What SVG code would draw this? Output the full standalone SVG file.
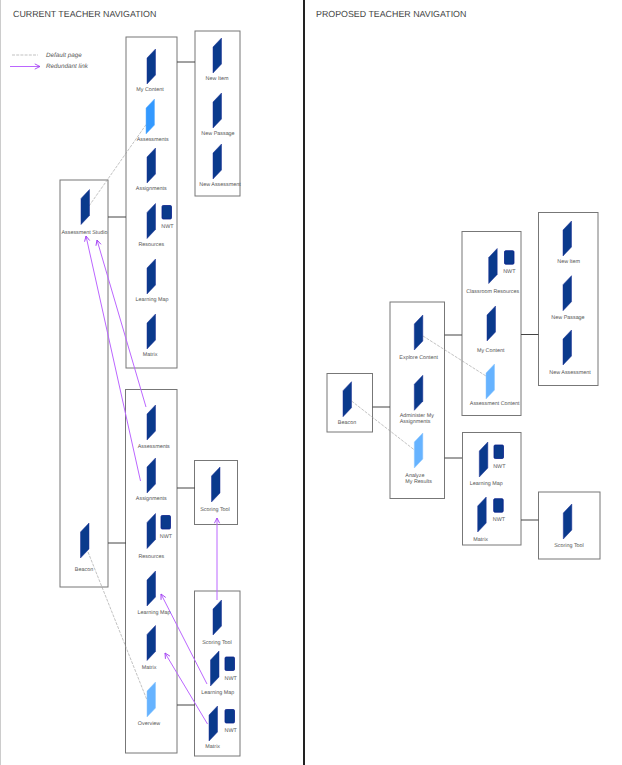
<svg xmlns="http://www.w3.org/2000/svg" width="622" height="765" viewBox="0 0 622 765">
<style>
text{font-family:"Liberation Sans",Arial,sans-serif;font-size:5.4px;fill:#555;text-anchor:middle;text-rendering:geometricPrecision}
.title{font-size:8.85px;text-anchor:start;fill:#444}
.leg{font-size:6.3px;font-style:italic;text-anchor:start}
.l{text-anchor:start}
.box{fill:#fff;stroke:#777;stroke-width:1}
.pg{fill:#0a3a8c;stroke:#1c2f96;stroke-width:.5}
.def{fill:#66b3ff;stroke:#8cc6ff;stroke-width:.5}
.def2{fill:#3399ff;stroke:#66b3ff;stroke-width:.5}
.nwt{fill:#0a3a8c;stroke:#0a1f8c;stroke-width:.8}
.c{stroke:#444;stroke-width:1;fill:none}
.d{stroke:#999;stroke-width:.6;stroke-dasharray:3 1.2;fill:none}
.r{stroke:#bb66ff;stroke-width:1;fill:none;marker-end:url(#a)}
</style>
<defs>
<polygon id="p" points="0,9 8.5,0 8.5,26 0,35"/>
<rect id="n" width="9.5" height="13.5" rx="1.2"/>
<marker id="a" viewBox="0 0 8 8" refX="7" refY="4" markerWidth="7" markerHeight="7" markerUnits="userSpaceOnUse" orient="auto"><path d="M1,1 L7,4 L1,7" fill="none" stroke="#a040f0" stroke-width="1"/></marker>
</defs>
<rect width="622" height="765" fill="#fff"/>
<line x1="0.5" y1="0" x2="0.5" y2="765" stroke="#ccc" stroke-width="1"/>
<line x1="304" y1="0" x2="304" y2="765" stroke="#222" stroke-width="2"/>
<text class="title" x="13" y="17">CURRENT TEACHER NAVIGATION</text>
<text class="title" x="316" y="17">PROPOSED TEACHER NAVIGATION</text>
<g id="legend">
<line class="d" x1="12" y1="55" x2="38" y2="55"/>
<text class="leg" x="46" y="57">Default page</text>
<line class="r" x1="10" y1="66.500" x2="40" y2="66.500"/>
<text class="leg" x="46" y="68">Redundant link</text>
</g>
<g id="boxes">
<rect id="box-a" class="box" x="60" y="180" width="48" height="407"/>
<rect id="box-b" class="box" x="126" y="37" width="51" height="331"/>
<rect id="box-c" class="box" x="195" y="31" width="45" height="165"/>
<rect id="box-d" class="box" x="125.500" y="389.500" width="51.500" height="363.500"/>
<rect id="box-e" class="box" x="194.500" y="460.500" width="43" height="64"/>
<rect id="box-f" class="box" x="194.500" y="591" width="45.500" height="165"/>
<rect id="box-g" class="box" x="327" y="373.500" width="45.500" height="58.500"/>
<rect id="box-h" class="box" x="390" y="302" width="54.500" height="196.500"/>
<rect id="box-i" class="box" x="462" y="231.500" width="59" height="184"/>
<rect id="box-j" class="box" x="538.500" y="212.500" width="59.500" height="173"/>
<rect id="box-k" class="box" x="462.500" y="432.500" width="58.500" height="112.500"/>
<rect id="box-l" class="box" x="538.500" y="492" width="61.500" height="67"/>
</g>
<g id="connectors">
<path class="c" d="M177,62H195M108,217H126M108,543H126M177,488H195M177,705H195M372.500,407H390M444.500,335H462M521,334.500H538.500M444.500,458H462M521,520H538.500"/>
<line class="d" x1="89" y1="206" x2="146.500" y2="124"/>
<line class="d" x1="88" y1="552" x2="147" y2="700"/>
<line class="d" x1="423" y1="336" x2="486" y2="376"/>
<line class="d" x1="351.500" y1="401" x2="414.500" y2="450"/>
<line class="r" x1="146" y1="407" x2="97" y2="240"/>
<line class="r" x1="140.500" y1="481" x2="86" y2="236"/>
<line class="r" x1="217" y1="600" x2="217" y2="518"/>
<line class="r" x1="207" y1="684" x2="161" y2="594"/>
<line class="r" x1="207.500" y1="724" x2="165" y2="653"/>
</g>
<g id="n-mycontent"><use href="#p" class="pg" x="147" y="49"/><text x="150" y="91">My Content</text></g>
<g id="n-assessments"><use href="#p" class="def2" x="146" y="99"/><text x="152.700" y="141">Assessments</text></g>
<g id="n-assignments"><use href="#p" class="pg" x="147" y="148"/><text x="151.300" y="190">Assignments</text></g>
<g id="n-resources"><use href="#p" class="pg" x="147" y="203.500"/><use href="#n" class="nwt" x="162" y="205.500"/><text x="151.300" y="245.500">Resources</text><text x="167.500" y="227.500">NWT</text></g>
<g id="n-learningmap"><use href="#p" class="pg" x="147" y="259"/><text x="152" y="301">Learning Map</text></g>
<g id="n-matrix"><use href="#p" class="pg" x="147" y="314"/><text x="150" y="355.500">Matrix</text></g>
<g id="n-newitem"><use href="#p" class="pg" x="213" y="38"/><text x="217" y="80">New Item</text></g>
<g id="n-newpassage"><use href="#p" class="pg" x="213" y="93"/><text x="218" y="135">New Passage</text></g>
<g id="n-newassessment"><use href="#p" class="pg" x="213" y="144"/><text x="220" y="186">New Assessment</text></g>
<g id="n-studio"><use href="#p" class="pg" x="81" y="189.500"/><text x="84.500" y="233.500">Assessment Studio</text></g>
<g id="n-beacon"><use href="#p" class="pg" x="80.500" y="523"/><text x="84" y="570.500">Beacon</text></g>
<g id="n-assessments2"><use href="#p" class="pg" x="147" y="405"/><text x="153.800" y="448">Assessments</text></g>
<g id="n-assignments2"><use href="#p" class="pg" x="147" y="458"/><text x="151.300" y="500">Assignments</text></g>
<g id="n-resources2"><use href="#p" class="pg" x="147" y="513.500"/><use href="#n" class="nwt" x="161" y="515.500"/><text x="151.300" y="557.500">Resources</text><text x="166" y="537.500">NWT</text></g>
<g id="n-learningmap2"><use href="#p" class="pg" x="147" y="571"/><text x="154" y="613.500">Learning Map</text></g>
<g id="n-matrix2"><use href="#p" class="pg" x="147" y="625.500"/><text x="149" y="669">Matrix</text></g>
<g id="n-overview"><use href="#p" class="def" x="147" y="682"/><text x="149" y="725">Overview</text></g>
<g id="n-scoring"><use href="#p" class="pg" x="211.500" y="467"/><text x="215" y="510.500">Scoring Tool</text></g>
<g id="n-scoring2"><use href="#p" class="pg" x="213" y="600"/><text x="217" y="644">Scoring Tool</text></g>
<g id="n-learningmap3"><use href="#p" class="pg" x="210.500" y="651"/><use href="#n" class="nwt" x="225" y="657"/><text x="217.700" y="693.500">Learning Map</text><text x="230.700" y="679.500">NWT</text></g>
<g id="n-matrix3"><use href="#p" class="pg" x="209" y="706"/><use href="#n" class="nwt" x="225" y="709.500"/><text x="212.700" y="748">Matrix</text><text x="230.700" y="732">NWT</text></g>
<g id="p-classroom"><use href="#p" class="pg" x="488.700" y="248.500"/><use href="#n" class="nwt" x="504.500" y="250.700"/><text x="492.700" y="292.500">Classroom Resources</text><text x="509.300" y="273">NWT</text></g>
<g id="p-mycontent"><use href="#p" class="pg" x="487" y="306"/><text x="490.700" y="352">My Content</text></g>
<g id="p-assessmentcontent"><use href="#p" class="def" x="486" y="364"/><text x="494.700" y="404.500">Assessment Content</text></g>
<g id="p-newitem"><use href="#p" class="pg" x="563" y="221"/><text x="568.700" y="263">New Item</text></g>
<g id="p-newpassage"><use href="#p" class="pg" x="563" y="275.700"/><text x="568" y="319">New Passage</text></g>
<g id="p-newassessment"><use href="#p" class="pg" x="563" y="330"/><text x="570" y="374">New Assessment</text></g>
<g id="p-explore"><use href="#p" class="pg" x="414.300" y="315"/><text x="418.700" y="359">Explore Content</text></g>
<g id="p-administer"><use href="#p" class="pg" x="414.300" y="375.300"/><text class="l" x="399.700" y="416.500">Administer My</text><text class="l" x="399.700" y="423">Assignments</text></g>
<g id="p-analyze"><use href="#p" class="def" x="414.300" y="433"/><text class="l" x="405.300" y="476.500">Analyze</text><text class="l" x="405.300" y="483">My Results</text></g>
<g id="p-beacon"><use href="#p" class="pg" x="343" y="381.700"/><text x="347" y="423.500">Beacon</text></g>
<g id="p-learningmap"><use href="#p" class="pg" x="479.300" y="442"/><use href="#n" class="nwt" x="494" y="445"/><text x="486.300" y="484.500">Learning Map</text><text x="499.300" y="467.500">NWT</text></g>
<g id="p-matrix"><use href="#p" class="pg" x="477.700" y="497"/><use href="#n" class="nwt" x="493.700" y="498.700"/><text x="480.700" y="541">Matrix</text><text x="499" y="521">NWT</text></g>
<g id="p-scoring"><use href="#p" class="pg" x="563.300" y="504"/><text x="569" y="546.500">Scoring Tool</text></g>
</svg>
